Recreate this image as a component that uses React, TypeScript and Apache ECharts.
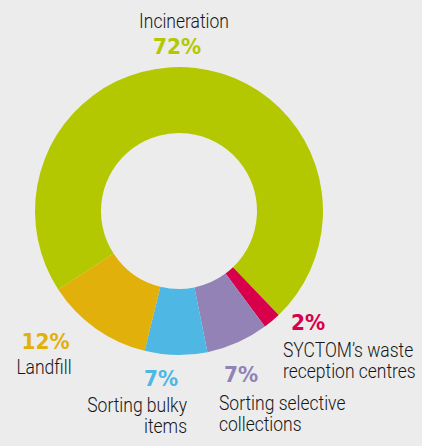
import React, { useEffect, useRef } from "react";
import * as echarts from "echarts";

const categories = [
  "Incineration",
  "SYCTOM's waste reception centres",
  "Sorting selective collections",
  "Sorting bulky items",
  "Landfill",
];
const values = [72, 2, 7, 7, 12];
const colors = ["#b3c800", "#d8004a", "#9282b6", "#4fb7e4", "#e2b00a"];
const nameLines = [
  ["Incineration"],
  ["SYCTOM\u2019s waste", "reception centres"],
  ["Sorting selective", "collections"],
  ["Sorting bulky", "items"],
  ["Landfill"],
];

// label layout (pixels): percent position, name lines position
const layout = [
  { px: 177, py: 47, pa: "center", nx: 184, ny: [22], na: "center" },
  { px: 291, py: 323, pa: "left", nx: 283, ny: [351, 372], na: "left" },
  { px: 224, py: 375, pa: "left", nx: 219, ny: [404, 425], na: "left" },
  { px: 161, py: 379, pa: "center", nx: 187, ny: [406, 427], na: "right" },
  { px: 45.5, py: 342, pa: "center", nx: 44, ny: [368], na: "center" },
];

const nameFont = "Roboto, 'Noto Sans', sans-serif";
const pctFont = "'DejaVu Sans', Verdana, sans-serif";

export default function App() {
  const ref = useRef<HTMLDivElement>(null);
  useEffect(() => {
    if (!ref.current) return;
    const chart = echarts.init(ref.current, null, { renderer: "svg" });
    const graphics: any[] = [];
    values.forEach((v, i) => {
      const l = layout[i];
      graphics.push({
        type: "text",
        x: l.px,
        y: l.py,
        scaleX: 0.96,
        style: {
          text: v + "%",
          fill: colors[i],
          font: `bold 21px ${pctFont}`,
          textAlign: l.pa,
          textVerticalAlign: "middle",
        },
      });
      nameLines[i].forEach((t, j) => {
        graphics.push({
          type: "text",
          x: l.nx,
          y: l.ny[j],
          scaleX: 0.875,
          style: {
            text: t,
            fill: "#161616",
            font: `300 20px ${nameFont}`,
            textAlign: l.na,
            textVerticalAlign: "middle",
          },
        });
      });
    });
    chart.setOption({
      animation: false,
      backgroundColor: "#ececec",
      graphic: graphics,
      series: [
        {
          type: "pie",
          center: [179, 211],
          radius: [78, 144],
          startAngle: 213,
          clockwise: true,
          label: { show: false },
          labelLine: { show: false },
          emphasis: { disabled: true },
          itemStyle: { borderWidth: 0 },
          data: categories.map((c, i) => ({
            name: c,
            value: values[i],
            itemStyle: { color: colors[i] },
          })),
        },
      ],
    });
    return () => chart.dispose();
  }, []);
  return (
    <div
      ref={ref}
      style={{ position: "fixed", left: 0, top: 0, width: 422, height: 446 }}
    />
  );
}
